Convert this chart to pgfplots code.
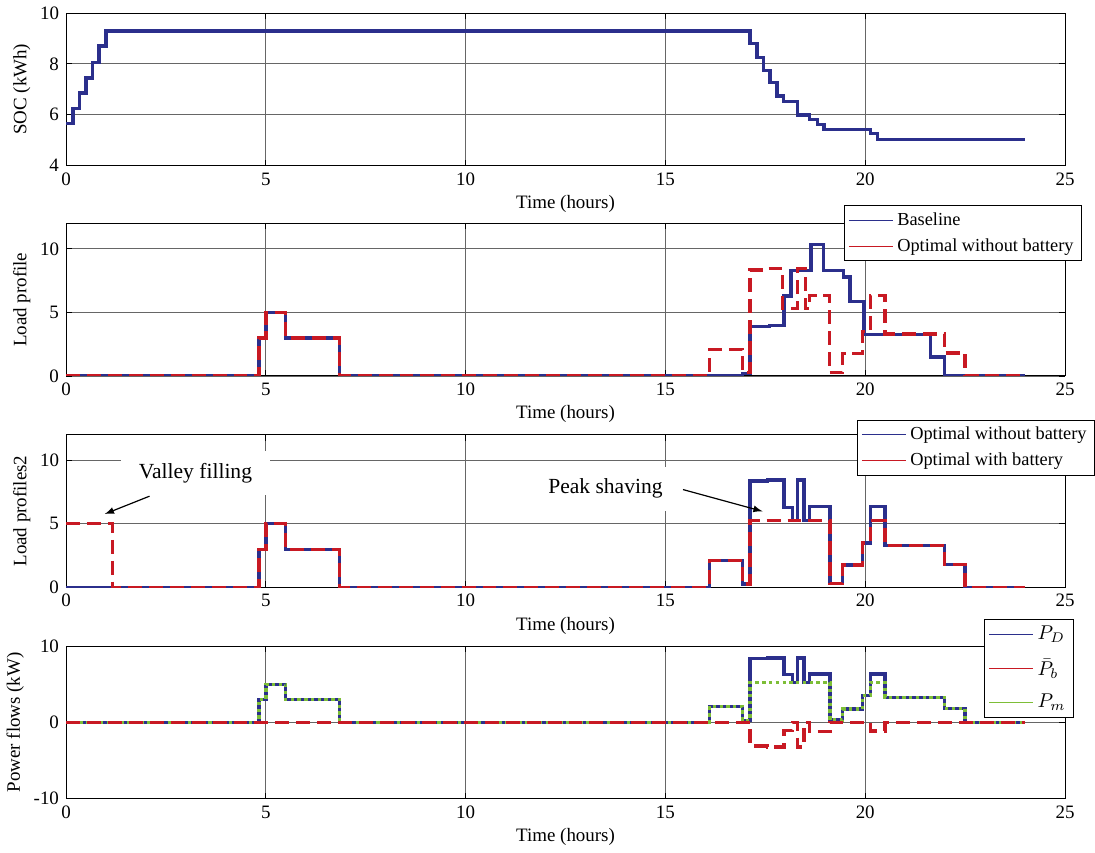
\documentclass[border=0pt]{standalone}
\usepackage{fontspec}
\setmainfont{Liberation Serif}
\usepackage{pgfplots}
\pgfplotsset{compat=1.18}
\definecolor{cblue}{RGB}{43,47,140}
\definecolor{cred}{RGB}{200,25,35}
\definecolor{cgreen}{RGB}{125,190,55}

\pgfplotsset{
 myax/.style={
  scale only axis, width=501pt, height=76.5pt,
  xmin=0, xmax=25, xtick={0,5,...,25},
  grid=major, major grid style={black!60, line width=0.4pt},
  axis line style={line width=0.5pt},
  tick align=inside, major tick length=3pt, tick style={black, line width=0.4pt},
  xlabel={Time (hours)},
  xlabel style={yshift=2pt},
  ylabel style={yshift=-2pt},
  /pgf/number format/assume math mode=true,
  legend style={font=\fontsize{9.2}{10.5}\selectfont, draw=black, line width=0.5pt,
     inner xsep=2pt, inner ysep=1.5pt, row sep=1pt, cells={anchor=west}, fill=white},
  legend image code/.code={\draw[#1] (0pt,0pt) -- (22pt,0pt);},
 },
 thk/.style={line width=1.7pt},
 dsh/.style={line width=1.7pt, dash pattern=on 7pt off 3.5pt},
 dtt/.style={line width=1.7pt, dash pattern=on 1.7pt off 1.7pt},
}

\begin{document}
\begin{tikzpicture}[font=\fontsize{9.5}{11}\selectfont]

% ---------- Plot 1: SOC ----------
\begin{axis}[myax, at={(0pt,-7pt)}, anchor=north west,
  ymin=4, ymax=10, ytick={4,6,8,10}, ylabel={SOC (kWh)}]
\addplot[cblue, thk, const plot] coordinates {
(0,5.65)(0.17,6.25)(0.33,6.85)(0.5,7.45)(0.67,8.05)(0.83,8.7)(1.0,9.3)
(17.12,8.79)(17.29,8.25)(17.46,7.74)(17.62,7.26)(17.79,6.73)(17.96,6.53)
(18.31,5.99)(18.6,5.81)(18.8,5.61)(18.97,5.43)(20.13,5.26)(20.3,5.03)(24,5.03)};
\end{axis}

% ---------- Plot 2: Load profile ----------
\begin{axis}[myax, at={(0pt,-112.5pt)}, anchor=north west,
  ymin=0, ymax=12, ytick={0,5,10}, ylabel={Load profile},
  legend style={at={(1.017,1.12)}, anchor=north east}]
\addlegendimage{cblue, line width=0.6pt}
\addlegendentry{Baseline}
\addlegendimage{cred, line width=0.6pt}
\addlegendentry{Optimal without battery}
\addplot[cblue, thk, const plot, forget plot] coordinates {
(0,0)(4.83,3)(5.0,5)(5.5,3)(6.85,0)(16.93,0.2)(17.12,3.88)(17.6,3.95)(17.97,6.3)
(18.14,8.3)(18.64,10.35)(18.95,8.3)(19.45,7.8)(19.62,5.85)(19.97,3.25)(21.63,1.5)
(21.98,0)(24,0)};
\addplot[cred, dsh, const plot, forget plot] coordinates {
(0,0)(4.83,3)(5.0,5)(5.5,3)(6.85,0)(16.1,2.1)(16.93,0.25)(17.12,8.35)(17.55,8.45)
(17.93,5.3)(18.31,8.45)(18.5,5.3)(18.6,6.35)(19.1,0.25)(19.43,1.75)(19.93,3.5)
(20.13,6.35)(20.49,3.3)(21.98,1.8)(22.5,0)(24,0)};
\end{axis}

% ---------- Plot 3: Load profiles2 ----------
\begin{axis}[myax, at={(0pt,-218.5pt)}, anchor=north west,
  ymin=0, ymax=12, ytick={0,5,10}, ylabel={Load profiles2},
  legend style={at={(1.03,1.1)}, anchor=north east}]
\addlegendimage{cblue, line width=0.6pt}
\addlegendentry{Optimal without battery}
\addlegendimage{cred, line width=0.6pt}
\addlegendentry{Optimal with battery}
\addplot[cblue, thk, const plot, forget plot] coordinates {
(0,0)(4.83,3)(5.0,5)(5.5,3)(6.85,0)(16.1,2.1)(16.93,0.25)(17.12,8.35)(17.55,8.45)
(17.97,6.3)(18.18,5.25)(18.31,8.45)(18.47,5.25)(18.6,6.35)(19.12,0.3)(19.43,1.75)
(19.93,3.5)(20.13,6.35)(20.49,3.3)(21.98,1.8)(22.5,0)(24,0)};
\addplot[cred, dsh, const plot, forget plot] coordinates {
(0,5)(1.17,0)(4.83,3)(5.0,5)(5.5,3)(6.85,0)(16.1,2.1)(16.93,0.25)(17.12,5.25)
(19.12,0.3)(19.43,1.75)(19.93,3.5)(20.13,5.25)(20.49,3.3)(21.98,1.8)(22.5,0)(24,0)};
\node[fill=white, inner xsep=9pt, inner ysep=6pt, font=\fontsize{10.8}{12}\selectfont]
  at (axis cs:3.24,9.0) {Valley filling};
\draw[-latex, line width=0.6pt] (axis cs:2.09,7.17) -- (axis cs:0.97,5.77);
\node[fill=white, inner xsep=4pt, inner ysep=6pt, font=\fontsize{10.8}{12}\selectfont]
  at (axis cs:13.5,7.75) {Peak shaving};
\draw[-latex, line width=0.6pt] (axis cs:15.44,7.69) -- (axis cs:17.43,5.98);
\end{axis}

% ---------- Plot 4: Power flows ----------
\begin{axis}[myax, at={(0pt,-324.5pt)}, anchor=north west,
  ymin=-10, ymax=10, ytick={-10,0,10}, ylabel={Power flows (kW)},
  legend style={at={(1.009,1.18)}, anchor=north east, font=\fontsize{10}{12}\selectfont,
     row sep=4pt, inner ysep=1.5pt}]
\addlegendimage{cblue, line width=0.6pt}
\addlegendentry{$P_D$}
\addlegendimage{cred, line width=0.6pt}
\addlegendentry{$\bar{P}_b$}
\addlegendimage{cgreen, line width=0.6pt}
\addlegendentry{$P_m$}
\addplot[cblue, thk, const plot, forget plot] coordinates {
(0,0)(4.83,3)(5.0,5)(5.5,3)(6.85,0)(16.1,2.1)(16.93,0.25)(17.12,8.35)(17.55,8.45)
(17.97,6.3)(18.18,5.25)(18.31,8.45)(18.47,5.25)(18.6,6.35)(19.12,0.3)(19.43,1.75)
(19.93,3.5)(20.13,6.35)(20.49,3.3)(21.98,1.8)(22.5,0)(24,0)};
\addplot[cgreen, dtt, const plot, forget plot] coordinates {
(0,0)(4.83,3)(5.0,5)(5.5,3)(6.85,0)(16.1,2.1)(16.93,0.25)(17.12,5.25)
(19.12,0.3)(19.43,1.75)(19.93,3.5)(20.13,5.25)(20.49,3.3)(21.98,1.8)(22.5,0)(24,0)};
\addplot[cred, dsh, const plot, forget plot] coordinates {
(0,0)(17.12,-3.1)(17.55,-3.2)(17.97,-1.05)(18.18,0)(18.31,-3.2)(18.47,0)(18.6,-1.2)
(19.12,0)(20.13,-1.1)(20.49,0)(24,0)};
\end{axis}

\end{tikzpicture}
\end{document}
